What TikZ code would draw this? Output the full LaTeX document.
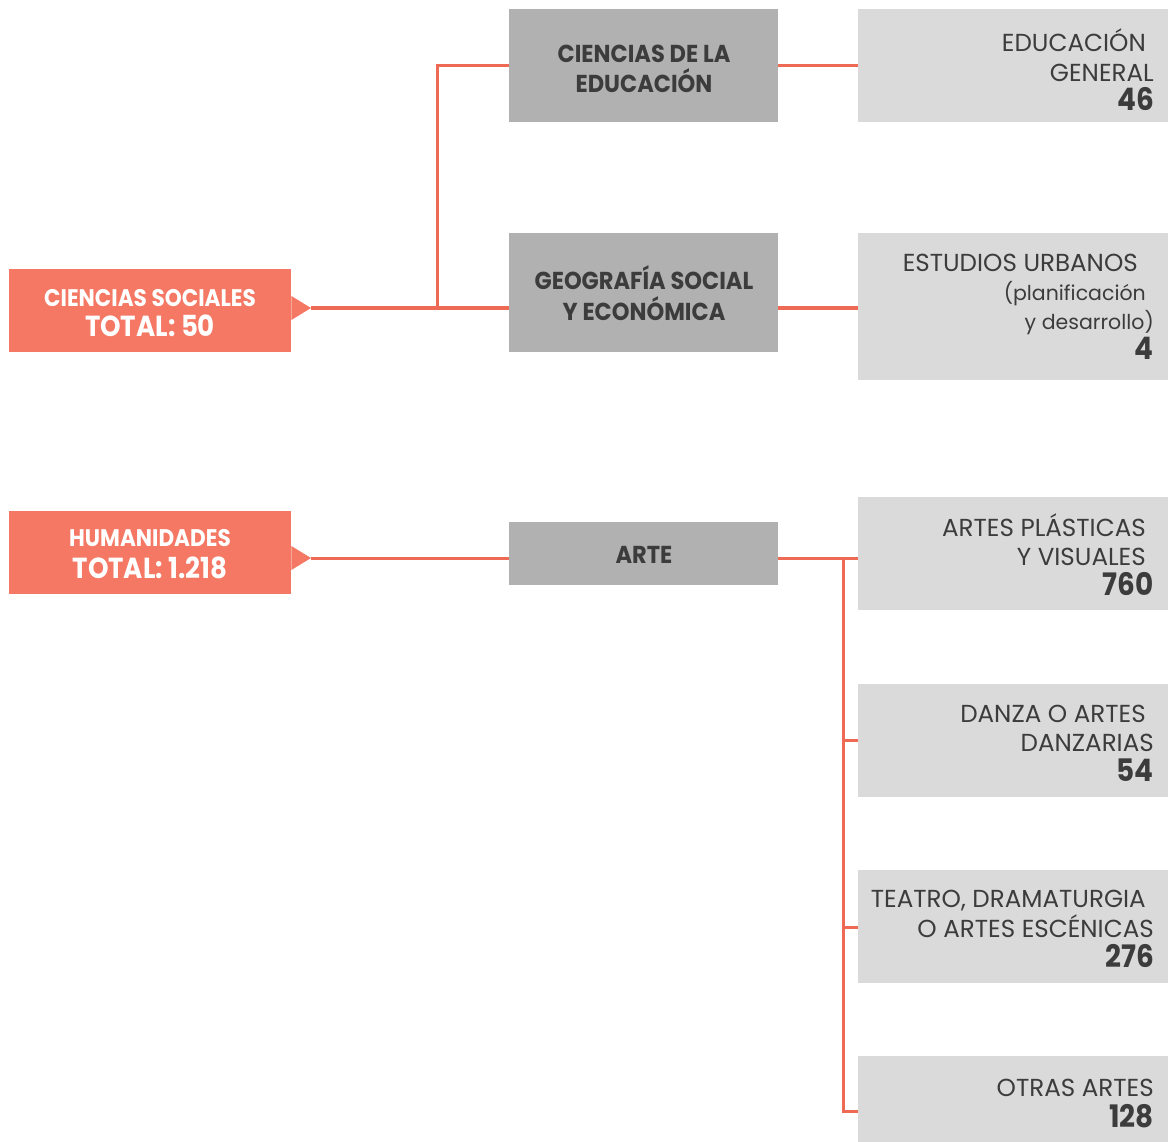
\documentclass[tikz,border=0pt]{standalone}
\usepackage{fontspec}
\setmainfont{Poppins}
\newfontfamily\condf[FakeStretch=0.9]{Poppins}
\newfontfamily\midf[FakeStretch=0.92]{Poppins}
\definecolor{salmon}{HTML}{F47864}
\definecolor{linec}{HTML}{EE6A55}
\definecolor{midg}{HTML}{B1B1B1}
\definecolor{lightg}{HTML}{DADADA}
\definecolor{txt}{HTML}{3C3C3C}
\tikzset{
  boxbase/.style={draw=none,inner sep=0pt,anchor=north west},
  salbox/.style={boxbase,fill=salmon},
  midbox/.style={boxbase,fill=midg},
  catbox/.style={boxbase,fill=lightg},
  conn/.style={draw=linec,line width=3pt},
  saltxt/.style={inner sep=0pt,anchor=base,text=white,font=\condf\bfseries\fontsize{24}{24}\selectfont},
  saltot/.style={inner sep=0pt,anchor=base,text=white,font=\condf\bfseries\fontsize{29}{29}\selectfont},
  midtxt/.style={inner sep=0pt,anchor=base,text=txt,font=\midf\bfseries\fontsize{24.5}{24.5}\selectfont},
  cattxt/.style={inner sep=0pt,anchor=base east,text=txt,font=\fontsize{24.6}{24.6}\selectfont},
  catsm/.style={inner sep=0pt,anchor=base east,text=txt,font=\fontsize{20.5}{20.5}\selectfont},
  catnum/.style={inner sep=0pt,anchor=base east,text=txt,font=\condf\bfseries\fontsize{31}{31}\selectfont},
}
\begin{document}
\begin{tikzpicture}[x=1pt,y=-1pt]
\useasboundingbox (0,0) rectangle (1168,1142);
% left boxes
\node[salbox,minimum width=282pt,minimum height=83pt] (cs) at (9,269) {};
\node[salbox,minimum width=282pt,minimum height=83pt] (hum) at (9,511) {};
% middle boxes
\node[midbox,minimum width=269pt,minimum height=113pt] (ce) at (509,9) {};
\node[midbox,minimum width=269pt,minimum height=119pt] (geo) at (509,233) {};
\node[midbox,minimum width=269pt,minimum height=63pt] (arte) at (509,522) {};
% right boxes
\node[catbox,minimum width=310pt,minimum height=113pt] (eg) at (858,9) {};
\node[catbox,minimum width=310pt,minimum height=147pt] (eu) at (858,233) {};
\node[catbox,minimum width=310pt,minimum height=113pt] (apv) at (858,497) {};
\node[catbox,minimum width=310pt,minimum height=113pt] (dan) at (858,684) {};
\node[catbox,minimum width=310pt,minimum height=113pt] (tea) at (858,870) {};
\node[catbox,minimum width=310pt,minimum height=86pt] (otr) at (858,1056) {};
% pointer triangles
\coordinate (cstip) at (311,308);
\coordinate (humtip) at (311,558);
\fill[salmon] (cs.east |- 0,296) -- (cstip) -- (cs.east |- 0,320) -- cycle;
\fill[salmon] (hum.east |- 0,546) -- (humtip) -- (hum.east |- 0,570) -- cycle;
% connectors
\coordinate (csj) at (437,308);
\coordinate (cej) at (437,66);
\draw[conn] (cstip) -- (geo.west |- cstip);
\draw[conn] (csj) -- (cej) -- (ce.west |- cej);
\draw[conn] (ce.east |- cej) -- (eg.west |- cej);
\draw[conn] (geo.east |- cstip) -- (eu.west |- cstip);
\draw[conn] (humtip) -- (arte.west |- humtip);
\coordinate (aj) at (843,558);
\coordinate (dj) at (843,740);
\coordinate (tj) at (843,927);
\coordinate (oj) at (843,1111);
\draw[conn] (arte.east |- humtip) -- (apv.west |- humtip);
\draw[conn] (aj) -- (oj) -- (otr.west |- oj);
\draw[conn] (dj) -- (dan.west |- dj);
\draw[conn] (tj) -- (tea.west |- tj);
% left texts
\node[saltxt] (cs1) at (150,306) {CIENCIAS SOCIALES};
\node[saltot] (cs2) at (150,336) {TOTAL: 50};
\node[saltxt] (hum1) at (150,546) {HUMANIDADES};
\node[saltot] (hum2) at (150,578) {TOTAL: 1.218};
% middle texts
\node[midtxt] (ce1) at (644,63) {CIENCIAS DE LA};
\node[midtxt] (ce2) at (644,93) {EDUCACIÓN};
\node[midtxt] (geo1) at (644,290) {GEOGRAFÍA SOCIAL};
\node[midtxt] (geo2) at (644,320) {Y ECONÓMICA};
\node[midtxt] (arte1) at (644,563) {ARTE};
% right texts
\node[cattxt] (eg1) at (1146,52) {EDUCACIÓN};
\node[cattxt] (eg2) at (1154,82) {GENERAL};
\node[catnum] (eg3) at (1154,111) {46};
\node[cattxt] (eu1) at (1138,272) {ESTUDIOS URBANOS};
\node[catsm] (eu2) at (1146,301) {(planificación};
\node[catsm] (eu3) at (1154,329) {y desarrollo)};
\node[catnum] (eu4) at (1154,359) {4};
\node[cattxt] (apv1) at (1146,536) {ARTES PLÁSTICAS};
\node[cattxt] (apv2) at (1146,565) {Y VISUALES};
\node[catnum] (apv3) at (1154,595) {760};
\node[cattxt] (dan1) at (1146,722) {DANZA O ARTES};
\node[cattxt] (dan2) at (1154,751) {DANZARIAS};
\node[catnum] (dan3) at (1154,781) {54};
\node[cattxt] (tea1) at (1146,907) {TEATRO, DRAMATURGIA};
\node[cattxt] (tea2) at (1154,937) {O ARTES ESCÉNICAS};
\node[catnum] (tea3) at (1154,967) {276};
\node[cattxt] (otr1) at (1154,1096) {OTRAS ARTES};
\node[catnum] (otr2) at (1154,1127) {128};
\end{tikzpicture}
\end{document}
